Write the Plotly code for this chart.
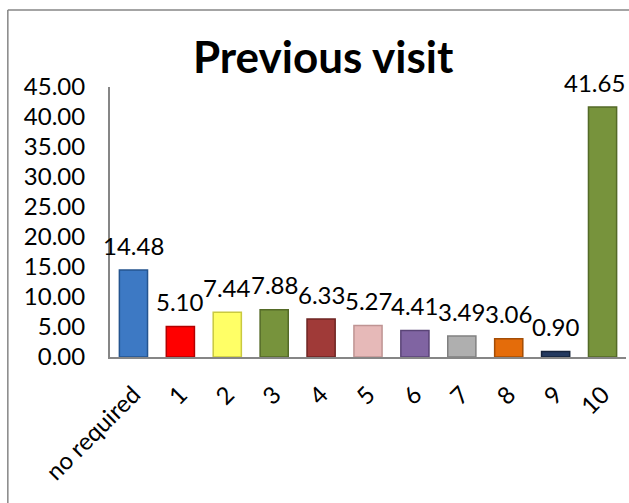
import plotly.graph_objects as go

# Ratings recorded for the previous visit (percent of respondents)
categories = ["no required", "1", "2", "3", "4", "5", "6", "7", "8", "9", "10"]
values = [14.48, 5.10, 7.44, 7.88, 6.33, 5.27, 4.41, 3.49, 3.06, 0.90, 41.65]
bar_colors = ["#3D79C4", "#FF0000", "#FFFF66", "#77933C", "#A03A38", "#E6B9B8",
              "#8064A2", "#AFAFAF", "#E46C0A", "#23395F", "#77933C"]
edge_colors = ["#24548F", "#B30000", "#C9C940", "#546A27", "#6E2422", "#BF9493",
               "#5A4477", "#808080", "#A44D05", "#15233B", "#546A27"]
y_ticks = [0, 5, 10, 15, 20, 25, 30, 35, 40, 45]

FONT = "Lato"
AXIS_GREY = "#868686"
LABEL_SIZE = 24

fig = go.Figure()
fig.add_trace(go.Bar(
    x=categories,
    y=values,
    width=0.6,
    marker=dict(color=bar_colors, line=dict(color=edge_colors, width=1.5)),
    hoverinfo="x+y",
))

# Value labels above each bar; the last one is nudged left to stay inside the frame
for i, (cat, val) in enumerate(zip(categories, values)):
    fig.add_annotation(
        x=cat, y=val, text=f"{val:.2f}", showarrow=False,
        yanchor="middle", yshift=25,
        xshift=-8 if i == len(categories) - 1 else 0,
        font=dict(family=FONT, size=LABEL_SIZE, color="black"),
    )

# Outer chart border (top and left edges visible in the frame)
fig.add_shape(type="line", xref="paper", yref="paper",
              x0=-0.198, y0=1.285, x1=1.05, y1=1.285,
              line=dict(color=AXIS_GREY, width=1.5))
fig.add_shape(type="line", xref="paper", yref="paper",
              x0=-0.198, y0=1.285, x1=-0.198, y1=-0.6,
              line=dict(color=AXIS_GREY, width=1.5))

fig.update_layout(
    width=629, height=503,
    margin=dict(l=110, r=3, t=87, b=146),
    paper_bgcolor="white", plot_bgcolor="white",
    showlegend=False,
    title=dict(text="<b>Previous visit</b>", x=0.413, xref="paper",
               y=0.885, yref="container", xanchor="center", yanchor="middle",
               font=dict(family=FONT, size=44, color="black")),
    font=dict(family=FONT, size=LABEL_SIZE, color="black"),
)
fig.update_xaxes(
    type="category", range=[-0.5, 10.5],
    showline=True, linecolor=AXIS_GREY, linewidth=2,
    ticks="", tickangle=-45, showgrid=False,
    tickfont=dict(family=FONT, size=LABEL_SIZE, color="black"),
    ticklabelstandoff=12,
)
fig.update_yaxes(
    range=[0, 45], tickvals=y_ticks, tickformat=".2f",
    showline=True, linecolor=AXIS_GREY, linewidth=2,
    ticks="", showgrid=False, zeroline=False,
    tickfont=dict(family=FONT, size=LABEL_SIZE, color="black"),
    ticklabelstandoff=18,
)

fig.write_html("out.html")
